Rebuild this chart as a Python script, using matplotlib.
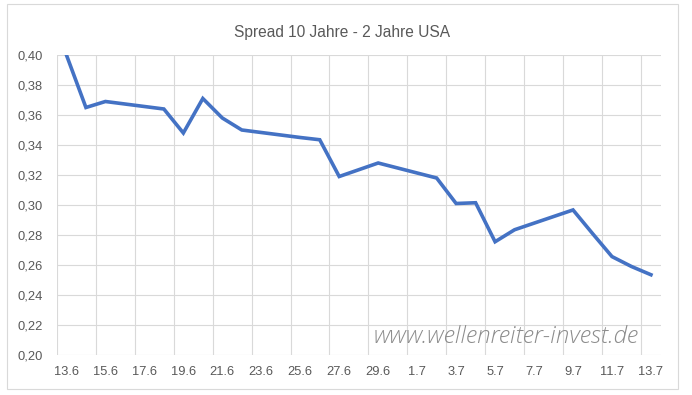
# -*- coding:utf-8 -*-
import pandas as pd
import matplotlib
matplotlib.use('Agg')
import matplotlib.pyplot as plt
from matplotlib.patches import Rectangle

# Handelstage und Spread-Werte (10J - 2J USA)
dates = ['2018-06-13', '2018-06-14', '2018-06-15', '2018-06-18', '2018-06-19',
         '2018-06-20', '2018-06-21', '2018-06-22', '2018-06-25', '2018-06-26',
         '2018-06-27', '2018-06-28', '2018-06-29', '2018-07-02', '2018-07-03',
         '2018-07-04', '2018-07-05', '2018-07-06', '2018-07-09', '2018-07-10',
         '2018-07-11', '2018-07-12', '2018-07-13']
spread = [0.400, 0.365, 0.369, 0.364, 0.348,
          0.371, 0.358, 0.350, 0.345, 0.3435,
          0.319, 0.3235, 0.328, 0.318, 0.301,
          0.3015, 0.2755, 0.2835, 0.2967, 0.281,
          0.2656, 0.259, 0.2535]
tick_dates = pd.date_range('2018-06-13', '2018-07-13', freq='2D')
y_ticks = [0.20, 0.22, 0.24, 0.26, 0.28, 0.30, 0.32, 0.34, 0.36, 0.38, 0.40]

start = pd.Timestamp('2018-06-13')
x = [(pd.Timestamp(d) - start).days for d in dates]
tick_x = [(d - start).days for d in tick_dates]
tick_labels = ['{}.{}'.format(d.day, d.month) for d in tick_dates]

plt.rcParams['font.family'] = ['Liberation Sans', 'DejaVu Sans']
grey = '#595959'
grid_c = '#D9D9D9'

fig = plt.figure(figsize=(6.92, 3.95), dpi=100)
ax = fig.add_axes([56.7 / 692, 1 - 355 / 395, (660.7 - 56.7) / 692, 300 / 395])

ax.plot(x, spread, color='#4472C4', linewidth=2.6, solid_joinstyle='miter', zorder=3)

ax.set_xlim(-0.5, tick_x[-1] + 0.5)
ax.set_ylim(0.20, 0.40)
ax.set_yticks(y_ticks)
ax.set_yticklabels(['{:.2f}'.format(v).replace('.', ',') for v in y_ticks])
ax.set_xticks(tick_x)
ax.set_xticklabels(tick_labels)
# Gitterlinien zwischen den Tagen (wie Excel Datumsachse)
ax.set_xticks([t - 0.5 for t in tick_x], minor=True)
ax.grid(True, which='minor', axis='x', color=grid_c, linewidth=0.8)
ax.grid(True, which='major', axis='y', color=grid_c, linewidth=0.8)
ax.tick_params(which='both', length=0)
ax.tick_params(axis='y', pad=10, labelsize=9.3, labelcolor=grey)
ax.tick_params(axis='x', pad=8, labelsize=9.3, labelcolor=grey)
for s in ax.spines.values():
    s.set_visible(False)
ax.set_axisbelow(True)

fig.text(342.5 / 692, 1 - 33 / 395, 'Spread 10 Jahre - 2 Jahre USA', ha='center', va='center',
         fontsize=11.2, color=grey)
fig.text(506.5 / 692, 1 - 337 / 395, 'www.wellenreiter-invest.de', ha='center', va='center',
         fontsize=17.5, color='#8C8C8C', style='italic', family=['Open Sans', 'DejaVu Sans'],
         weight='light', zorder=5)

fig.patches.append(Rectangle((7 / 692, 1 - 389 / 395), 671 / 692, 385 / 395,
                             transform=fig.transFigure, fill=False, edgecolor=grid_c,
                             linewidth=0.8))

plt.savefig('out.png', dpi=100)
plt.close()
